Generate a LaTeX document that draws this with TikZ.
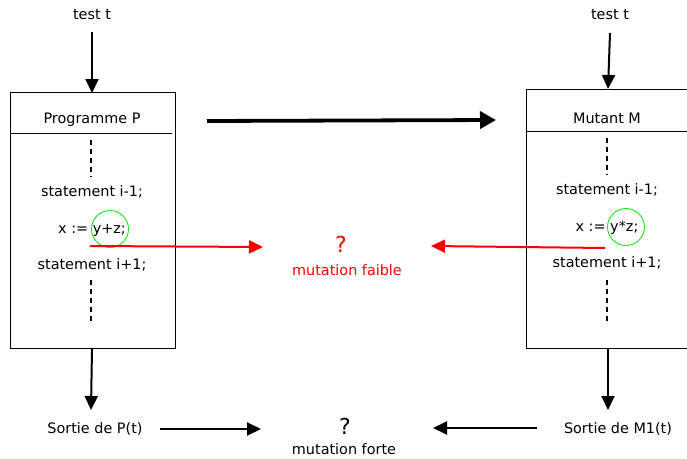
\documentclass[tikz,border=0pt]{standalone}
\usepackage{fontspec}
\setmainfont{DejaVu Sans}
\usetikzlibrary{arrows.meta}
\begin{document}
\begin{tikzpicture}[x=1pt,y=-1pt,
  txt/.style={font=\fontsize{14.4}{16}\selectfont, inner sep=0pt},
  qm/.style={font=\fontsize{22}{24}\selectfont, inner sep=0pt},
  arr/.style={line width=2pt, -{Triangle[length=14pt,width=13pt]}},
  redarr/.style={draw=red, line width=2pt, -{Triangle[length=14pt,width=13pt]}},
  bigarr/.style={line width=3.8pt, -{Triangle[length=16pt,width=17pt]}},
  frame/.style={draw, line width=0.8pt},
  dots/.style={line width=2.4pt, dash pattern=on 5pt off 4pt},
  ring/.style={draw=green!90!black, line width=0.8pt, circle, minimum size=37pt, inner sep=0pt}]
\useasboundingbox (0,0) rectangle (687,458);
% left column
\node[txt] (tl) at (92,15) {test t};
\draw[frame] (10,92) rectangle (175,348);
\coordinate (ltop) at (92,93);
\coordinate (lbot) at (92,348);
\coordinate (lin) at (92,32);
\draw[frame] (10,133) -- (172,133);
\node[txt] (pp) at (92,120) {Programme P};
\draw[dots] (91,140) -- (91,177);
\node[txt] (ls1) at (92,192) {statement i-1;};
\node[txt] (lx) at (92,230) {x := y+z;};
\node[ring] (lc) at (110,229) {};
\node[txt] (ls2) at (92,265) {statement i+1;};
\draw[dots] (91,280) -- (91,322);
\draw[arr] (lin) -- (ltop);
% right column
\node[txt] (tr) at (610,15) {test t};
\draw[frame] (687,89) -- (526,89) -- (526,348) -- (687,348);
\coordinate (rtop) at (608,89);
\coordinate (rbot) at (608,348);
\coordinate (rin) at (610,33);
\draw[frame] (526,131) -- (687,131);
\node[txt] (mm) at (607,118) {Mutant M};
\draw[dots] (607,138) -- (607,175);
\node[txt] (rs1) at (607,190) {statement i-1;};
\node[txt] (rx) at (607,228) {x := y*z;};
\node[ring] (rc) at (626,227) {};
\node[txt] (rs2) at (607,263) {statement i+1;};
\draw[dots] (607,280) -- (607,322);
\draw[arr] (rin) -- (rtop);
% top big arrow
\coordinate (ba) at (207,121);
\coordinate (bb) at (496,120);
\draw[bigarr] (ba) -- (bb);
% weak mutation
\node[qm, text=red] (wq) at (341,244) {?};
\node[txt, text=red] (wl) at (347,270) {mutation faible};
\coordinate (lr) at (90,246);
\coordinate (rr) at (605,248);
\draw[redarr] (lr) -- (263,247);
\draw[redarr] (rr) -- (431,246);
% bottom
\node[txt] (sp) at (95,429) {Sortie de P(t)};
\node[txt] (sm) at (618,429) {Sortie de M1(t)};
\node[qm] (fq) at (345,426) {?};
\node[txt] (fl) at (344,449) {mutation forte};
\draw[arr] (lbot) -- (91,410);
\draw[arr] (rbot) -- (608,410);
\draw[arr] (160,429) -- (261,429);
\draw[arr] (537,428) -- (433,428);
\end{tikzpicture}
\end{document}
